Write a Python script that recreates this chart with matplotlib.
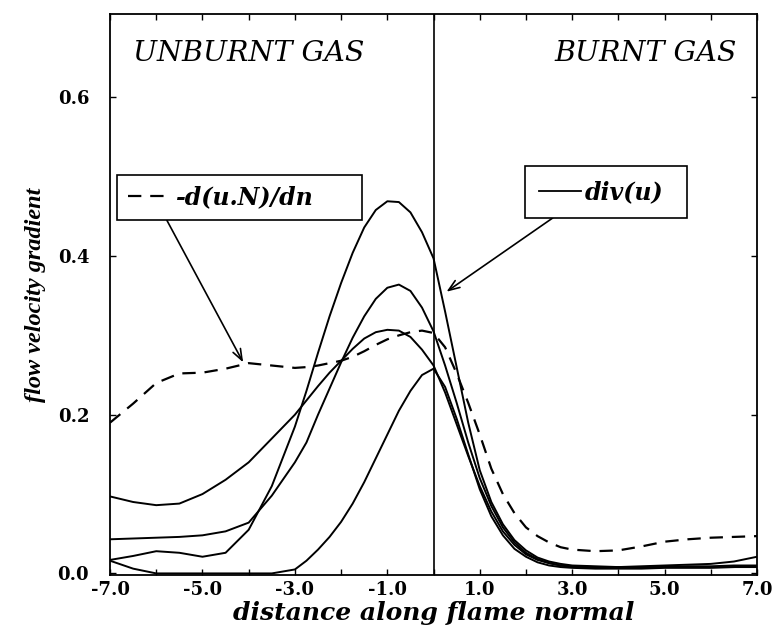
import matplotlib
matplotlib.use("Agg")
import matplotlib.pyplot as plt
from matplotlib.lines import Line2D
from matplotlib.ticker import MultipleLocator

# distance along flame normal
x = [-7.0, -6.5, -6.0, -5.5, -5.0, -4.5, -4.0, -3.5, -3.0,
     -2.75, -2.5, -2.25, -2.0, -1.75, -1.5, -1.25, -1.0, -0.75, -0.5, -0.25,
     0.0, 0.25, 0.5, 0.75, 1.0, 1.25, 1.5, 1.75, 2.0, 2.25, 2.5, 2.75, 3.0,
     3.5, 4.0, 4.5, 5.0, 5.5, 6.0, 6.5, 7.0]

# -d(u.N)/dn (dashed)
normal_grad = [0.190, 0.214, 0.240, 0.252, 0.253, 0.258, 0.265, 0.262, 0.259,
               0.260, 0.262, 0.265, 0.268, 0.273, 0.280, 0.288, 0.295, 0.300, 0.304, 0.306,
               0.303, 0.285, 0.252, 0.215, 0.175, 0.132, 0.100, 0.076, 0.058, 0.047, 0.039, 0.033, 0.030,
               0.028, 0.029, 0.034, 0.040, 0.043, 0.045, 0.046, 0.047]

# div(u) curves (solid)
div_a = [0.017, 0.022, 0.028, 0.026, 0.021, 0.026, 0.055, 0.110, 0.185,
         0.230, 0.278, 0.324, 0.366, 0.404, 0.436, 0.458, 0.469, 0.468, 0.455, 0.430,
         0.397, 0.330, 0.260, 0.190, 0.130, 0.090, 0.062, 0.042, 0.029, 0.020, 0.015, 0.012, 0.010,
         0.009, 0.008, 0.008, 0.008, 0.009, 0.009, 0.010, 0.010]
div_b = [0.043, 0.044, 0.045, 0.046, 0.048, 0.053, 0.064, 0.098, 0.140,
         0.165, 0.200, 0.233, 0.266, 0.297, 0.324, 0.346, 0.360, 0.364, 0.356, 0.335,
         0.305, 0.262, 0.215, 0.165, 0.120, 0.085, 0.058, 0.039, 0.026, 0.018, 0.013, 0.010, 0.008,
         0.007, 0.007, 0.007, 0.008, 0.008, 0.008, 0.008, 0.009]
div_c = [0.097, 0.090, 0.086, 0.088, 0.100, 0.118, 0.140, 0.170, 0.200,
         0.218, 0.236, 0.253, 0.268, 0.283, 0.296, 0.304, 0.307, 0.306, 0.298, 0.282,
         0.262, 0.228, 0.188, 0.148, 0.110, 0.078, 0.053, 0.036, 0.024, 0.017, 0.013, 0.010, 0.009,
         0.008, 0.008, 0.009, 0.010, 0.011, 0.012, 0.015, 0.021]
div_d = [0.016, 0.006, 0.0, 0.0, 0.0, 0.0, 0.0, 0.0, 0.005,
         0.016, 0.030, 0.046, 0.065, 0.088, 0.115, 0.145, 0.175, 0.205, 0.230, 0.250,
         0.258, 0.235, 0.195, 0.150, 0.106, 0.072, 0.048, 0.031, 0.021, 0.014, 0.010, 0.008, 0.007,
         0.006, 0.006, 0.006, 0.007, 0.007, 0.007, 0.008, 0.008]

x_ticks = [-7.0, -5.0, -3.0, -1.0, 1.0, 3.0, 5.0, 7.0]
y_ticks = [0.0, 0.2, 0.4, 0.6]

fig = plt.figure(figsize=(7.76, 6.25), dpi=100)
ax = fig.add_axes([0.1418, 0.08, 0.8338, 0.8976])

# curvas
for serie in (div_a, div_b, div_c, div_d):
    ax.plot(x, serie, color='black', lw=1.4)
ax.plot(x, normal_grad, color='black', lw=1.6, linestyle=(0, (6, 4)))

# frente de llama
ax.axvline(0.0, color='black', lw=1.2)

ax.set_xlim(-7.0, 7.0)
ax.set_ylim(-0.002, 0.705)
ax.set_xticks(x_ticks)
ax.set_xticklabels([f"{t:.1f}" for t in x_ticks])
ax.xaxis.set_minor_locator(MultipleLocator(1.0))
ax.set_yticks(y_ticks)
ax.set_yticklabels([f"{t:.1f}" for t in y_ticks])
ax.tick_params(which='both', direction='in', top=True, right=True, length=4, width=1)
ax.tick_params(axis='x', pad=4)
ax.tick_params(axis='y', pad=15)
for lab in ax.get_xticklabels() + ax.get_yticklabels():
    lab.set_fontfamily('DejaVu Serif')
    lab.set_fontweight('bold')
    lab.set_fontsize(13)
for sp in ax.spines.values():
    sp.set_linewidth(1.3)

ax.set_xlabel('distance along flame normal', family='DejaVu Serif', weight='bold',
              style='italic', fontsize=18, labelpad=2)
ax.set_ylabel('flow velocity gradient', family='Liberation Serif', weight='bold',
              style='italic', fontsize=17.5, labelpad=8)

# zonas
ax.text(0.036, 0.929, 'UNBURNT GAS', transform=ax.transAxes, family='DejaVu Serif',
        style='italic', fontsize=20.5, ha='left', va='center')
ax.text(0.969, 0.929, 'BURNT GAS', transform=ax.transAxes, family='DejaVu Serif',
        style='italic', fontsize=20.5, ha='right', va='center')

# leyendas
fuente_ley = {'family': 'DejaVu Serif', 'weight': 'bold', 'style': 'italic', 'size': 17}
h_dash = Line2D([], [], color='black', lw=1.6, linestyle=(0, (6, 4)))
h_solid = Line2D([], [], color='black', lw=1.3)
ley1 = ax.legend([h_dash], ['-d(u.N)/dn'], loc='lower left',
                 bbox_to_anchor=(0.011, 0.633, 0.378, 0.101), mode='expand',
                 borderaxespad=0, prop=fuente_ley, handlelength=1.7, handletextpad=0.3,
                 borderpad=0.45, fancybox=False, framealpha=1, edgecolor='black')
ley1.get_frame().set_linewidth(1.2)
ax.add_artist(ley1)
ley2 = ax.legend([h_solid], ['div(u)'], loc='lower left',
                 bbox_to_anchor=(0.641, 0.636, 0.251, 0.113), mode='expand',
                 borderaxespad=0, prop=fuente_ley, handlelength=1.8, handletextpad=0.15,
                 borderpad=0.6, fancybox=False, framealpha=1, edgecolor='black')
ley2.get_frame().set_linewidth(1.2)

# flechas
flecha = dict(arrowstyle='->,head_length=0.8,head_width=0.3', color='black', lw=1.2,
              shrinkA=0, shrinkB=0)
ax.annotate('', xy=(-4.12, 0.266), xytext=(-5.77, 0.445), arrowprops=flecha)
ax.annotate('', xy=(0.28, 0.355), xytext=(2.58, 0.448), arrowprops=flecha)

fig.savefig('out.png', dpi=100)
